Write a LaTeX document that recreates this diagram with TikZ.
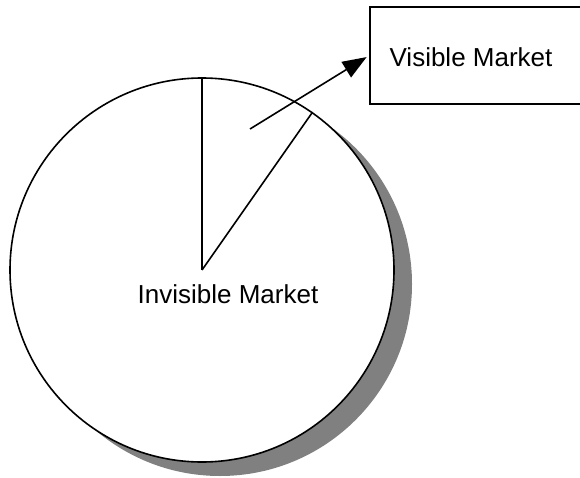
\documentclass[tikz,border=0pt]{standalone}
\usepackage{fontspec}
\setmainfont{Liberation Sans}
\usetikzlibrary{arrows.meta,calc}
\begin{document}
\begin{tikzpicture}[x=1pt,y=-1pt,
  outline/.style={draw=black,line width=1.6pt},
  label/.style={font=\fontsize{26}{30}\selectfont,inner sep=0pt,anchor=base}]
\useasboundingbox[fill=white] (0,0) rectangle (580,478);
% shadow
\node[circle,fill=black!50,minimum size=384pt,inner sep=0pt] (shadow) at (220,284) {};
% pie
\node[circle,outline,fill=white,minimum size=384pt,inner sep=0pt] (pie) at (202,270) {};
\draw[outline] (pie.center) -- (pie.north);
\draw[outline] (pie.center) -- (pie.55.5);
% box
\node[rectangle,outline,minimum width=214pt,minimum height=97pt,inner sep=0pt] (box) at (477,55.5) {};
\node[label] (vis) at (471,67) {Visible Market};
\node[label] (invis) at (228,303) {Invisible Market};
% arrow
\coordinate (arrowstart) at (250,129);
\draw[line width=1.6pt,-{Triangle[length=24pt,width=18pt]},shorten >=3pt] (arrowstart) -- (box.west);
\end{tikzpicture}
\end{document}
